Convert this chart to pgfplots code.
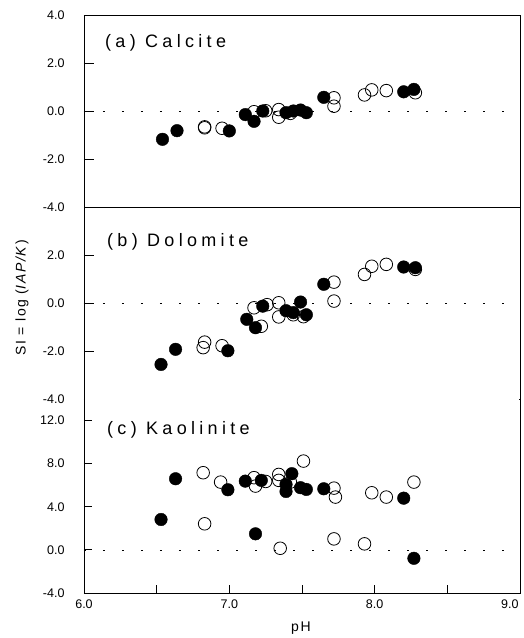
\documentclass[border=0pt]{standalone}
\usepackage{fontspec}
\setmainfont{Liberation Sans}
\newfontfamily\spaced[LetterSpace=24]{Liberation Sans}
\newfontfamily\spacedlab[LetterSpace=12]{Liberation Sans}
\newcommand\tl[1]{{\fontsize{12.5}{14}\selectfont #1}}
\usepackage{pgfplots}
\pgfplotsset{compat=1.18}
\pgfplotsset{
  panel/.style={
    scale only axis, width=436pt, anchor=south west,
    xmin=6, xmax=9, ytick pos=left, tick align=inside,
    major tick length=10pt,
    axis line style={line width=0.8pt},
    tick style={line width=0.8pt, black},
    yticklabel style={xshift=-16pt},
    clip=false,
  },
  filled/.style={only marks, mark=*, mark size=6.3pt, mark options={fill=black, draw=black}},
  open/.style={only marks, mark=o, mark size=6.3pt, mark options={draw=black, line width=0.8pt}},
  zero/.style={black, line width=0.7pt, dash pattern=on 1.8pt off 17.2pt, forget plot},
}
\begin{document}
\begin{tikzpicture}[x=1pt,y=1pt]
\useasboundingbox (0,0) rectangle (524,638);
% Panel (a)
\begin{axis}[panel, at={(84pt,431pt)}, height=192pt, ymin=-4, ymax=4,
  ytick={-4,-2,0,2,4}, yticklabels={\tl{-4.0},\tl{-2.0},\tl{0.0},\tl{2.0},\tl{4.0}}, xtick=\empty]
\addplot[zero] coordinates {(6,0) (9,0)};
\addplot[open] coordinates {(6.83,-0.70) (6.83,-0.66) (6.95,-0.72) (7.17,-0.03) (7.25,0.01) (7.34,0.06) (7.34,-0.26) (7.42,-0.10) (7.72,0.55) (7.72,0.20) (7.93,0.67) (7.98,0.88) (8.08,0.85) (8.28,0.76)};
\addplot[filled] coordinates {(6.54,-1.18) (6.64,-0.82) (7.00,-0.83) (7.11,-0.15) (7.17,-0.43) (7.23,0.00) (7.39,-0.07) (7.44,0.00) (7.49,0.04) (7.53,-0.07) (7.65,0.57) (8.20,0.80) (8.27,0.90)};
\end{axis}
% Panel (b)
\begin{axis}[panel, at={(84pt,239pt)}, height=192pt, ymin=-4, ymax=4,
  ytick={-4,-2,0,2}, yticklabels={\tl{-4.0},\tl{-2.0},\tl{0.0},\tl{2.0}}, xtick=\empty]
\addplot[zero] coordinates {(6,0) (9,0)};
\addplot[open] coordinates {(6.83,-1.63) (6.82,-1.86) (6.95,-1.78) (7.17,-0.20) (7.22,-0.97) (7.26,-0.07) (7.34,0.01) (7.34,-0.58) (7.44,-0.49) (7.51,-0.57) (7.72,0.87) (7.72,0.08) (7.93,1.19) (7.98,1.53) (8.08,1.61) (8.28,1.40)};
\addplot[filled] coordinates {(6.53,-2.56) (6.63,-1.93) (6.99,-1.99) (7.12,-0.68) (7.18,-1.03) (7.23,-0.13) (7.39,-0.32) (7.44,-0.40) (7.49,0.04) (7.53,-0.49) (7.65,0.78) (8.20,1.50) (8.28,1.47)};
\end{axis}
% Panel (c)
\begin{axis}[panel, at={(84pt,45pt)}, height=194pt, ymin=-4, ymax=14,
  ytick={-4,0,4,8,12}, yticklabels={\tl{-4.0},\tl{0.0},\tl{4.0},\tl{8.0},\tl{12.0}},
  xtick={6,6.5,7,7.5,8,8.5}, xticklabels={\tl{6.0},,\tl{7.0},,\tl{8.0},},
  xtick pos=bottom, major tick length=8pt,
  xticklabel style={yshift=-3pt},
  extra x ticks={9}, extra x tick labels={\tl{9.0}},
  extra x tick style={xticklabel style={anchor=north east, xshift=2pt}}]
\addplot[zero] coordinates {(6,0) (9,0)};
\addplot[open] coordinates {(6.82,7.16) (6.83,2.42) (6.94,6.29) (7.17,6.70) (7.18,5.92) (7.25,6.35) (7.34,7.00) (7.34,6.45) (7.42,6.29) (7.35,0.15) (7.51,8.24) (7.72,5.73) (7.73,4.90) (7.72,1.02) (7.93,0.56) (7.98,5.30) (8.08,4.90) (8.27,6.29)};
\addplot[filled] coordinates {(6.53,2.82) (6.63,6.60) (6.99,5.58) (7.11,6.38) (7.18,1.49) (7.22,6.45) (7.39,6.07) (7.39,5.42) (7.43,7.07) (7.49,5.77) (7.53,5.61) (7.65,5.67) (8.20,4.80) (8.27,-0.78)};
\end{axis}
% remove boundary line between (b) and (c)
\draw[white, line width=1.6pt] (85,239) -- (519,239);
% panel titles
\node[anchor=west, inner sep=0pt, font=\spaced\fontsize{18}{20}\selectfont] at (105,595) {(a) Calcite};
\node[anchor=west, inner sep=0pt, font=\spaced\fontsize{18}{20}\selectfont] at (107,396) {(b) Dolomite};
\node[anchor=west, inner sep=0pt, font=\spaced\fontsize{18}{20}\selectfont] at (107,208) {(c) Kaolinite};
% axis labels
\node[rotate=90, inner sep=0pt, font=\spacedlab\fontsize{14}{16}\selectfont] at (22,340) {SI = log (\textit{IAP/K})};
\node[inner sep=0pt, font=\spacedlab\fontsize{14}{16}\selectfont] at (301,10) {pH};
\end{tikzpicture}
\end{document}
